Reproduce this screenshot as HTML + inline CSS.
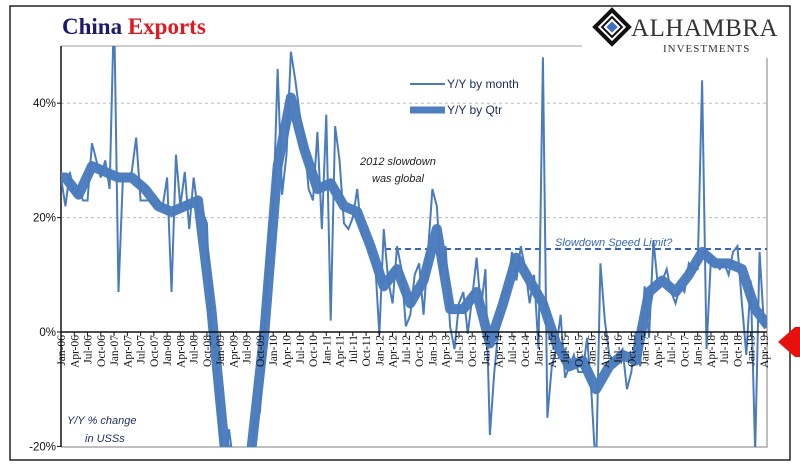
<!DOCTYPE html>
<html><head><meta charset="utf-8"><style>
body{margin:0;background:#fff;width:800px;height:476px;overflow:hidden}
svg{display:block}
</style></head><body>
<svg id="chart" width="800" height="476" viewBox="0 0 800 476">
<rect x="10" y="6" width="780" height="454" fill="#fff" stroke="#222" stroke-width="1.5"/>
<text x="62" y="34" font-family="Liberation Serif, serif" font-size="23" font-weight="bold"><tspan fill="#1a1a6e">China </tspan><tspan fill="#e0191f">Exports</tspan></text>
<g>
<g transform="translate(612,27) rotate(45)"><rect x="-12" y="-12" width="24" height="24" fill="none" stroke="#111" stroke-width="4"/><rect x="-7" y="-7" width="14" height="14" fill="none" stroke="#111" stroke-width="2"/><rect x="-4" y="-4" width="8" height="8" fill="#3f6fc0"/></g>
<text x="631" y="36" font-family="Liberation Serif, serif" font-size="25" fill="#333" letter-spacing="0.5">ALHAMBRA</text>
<text x="663" y="52" font-family="Liberation Serif, serif" font-size="11" fill="#333" letter-spacing="1">INVESTMENTS</text>
</g>
<g id="plot"></g>
<polygon points="778,342 795,327 800,327 800,357 795,357" fill="#e8100f"/>
</svg>
<script>
const monthLabels=["Jan","Apr","Jul","Oct"];
const monthly=[27,22,28,24,25,23,23,33,30,27,30,25,
57,7,27,27,28,34,23,23,23,22,23,22,
27,7,31,22,28,18,27,21,21,19,-2,-3,
-18,-26,-17,-23,-26,-21,-23,-23,-15,-14,-1,18,
21,46,24,31,49,44,38,34,25,23,35,18,
38,2,36,30,19,18,20,25,17,16,14,13,
-0.5,18,9,5,15,11,1,3,10,12,3,14,
25,22,10,15,1,-3,5,7,-0.3,6,13,4,
11,-18,-7,1,7,7,14,9,15,11,5,10,
-3,48,-15,-6,-3,3,-8,-6,-4,-7,-7,-1,
-11,-25,12,2,-4,-5,-4,-3,-10,-7,0,-6,
8,-1,16,8,9,11,7,5,8,7,12,11,
11,44,-3,13,12,11,12,10,14,15,5,-4,
9,-21,14,1];
const quarterly=[27,24,29,28, 27,27,25,22, 21,22,23,4, -20,-24,-21,0, 29,41,32,25, 26,22,21,15, 8,11,5,9, 18,4,4,7, -2,5,13,9, 5,-2,-6,-5, -10,-6,-4,-5, 7,9,7,10, 14,12,12,11, 4,1];
const yTicks=[-20,0,20,40];
const speedLimit=14.5;
const startYear=2006;

const NS="http://www.w3.org/2000/svg";
const plot=document.getElementById('plot');
const X0=61,X1=764,Y0=332,PPU=5.72,TOP=46,BOT=447,RIGHT=767;
const N=monthly.length;
const x=i=>X0+i*(X1-X0)/(N-1);
const y=v=>Y0-v*PPU;
function el(t,a){const e=document.createElementNS(NS,t);for(const k in a)e.setAttribute(k,a[k]);plot.appendChild(e);return e;}

const clip=document.createElementNS(NS,'clipPath');clip.setAttribute('id','pc');
const cr=document.createElementNS(NS,'rect');cr.setAttribute('x',X0);cr.setAttribute('y',TOP);cr.setAttribute('width',RIGHT-X0);cr.setAttribute('height',BOT-TOP);
clip.appendChild(cr);plot.appendChild(clip);

let e=el('polyline',{points:`${X0},${TOP} ${582},${TOP}`,stroke:'#999',fill:'none','stroke-width':1});


e=el('polyline',{points:`${RIGHT},58 ${RIGHT},${BOT} ${X0},${BOT}`,stroke:'#aaa',fill:'none','stroke-width':1.5});



yTicks.forEach(v=>{
  if(v>0){const g=el('line',{x1:X0,x2:RIGHT,y1:y(v),y2:y(v),stroke:'#bbb','stroke-dasharray':'3,3'});
  
  }
  const t=el('text',{x:X0-5,y:y(v)+4,'text-anchor':'end','font-family':'Liberation Sans, sans-serif','font-size':11.5,fill:'#111'});
  t.textContent=v+'%';
  
  
  const tk=el('line',{x1:X0-4,x2:X0,y1:y(v),y2:y(v),stroke:'#111'});
  
  
});
e=el('line',{x1:X0,x2:X0,y1:TOP,y2:BOT,stroke:'#111','stroke-width':1.5});



e=el('line',{x1:385,x2:RIGHT,y1:y(speedLimit),y2:y(speedLimit),stroke:'#3b67b0','stroke-width':2,'stroke-dasharray':'6,4'});



const qpts=quarterly.map((v,i)=>`${x(i*3+1)},${y(v)}`);
qpts.unshift(`${x(0)},${y(quarterly[0])}`);
e=el('polyline',{points:qpts.join(' '),fill:'none',stroke:'#4f7fbf','stroke-width':10,'stroke-linejoin':'round','clip-path':'url(#pc)'});


e=el('polyline',{points:monthly.map((v,i)=>`${x(i)},${y(v)}`).join(' '),fill:'none',stroke:'#4a7cbd','stroke-width':2,'clip-path':'url(#pc)'});



e=el('line',{x1:X0,x2:RIGHT,y1:Y0,y2:Y0,stroke:'#111','stroke-width':1.5});


for(let i=0;i<N;i+=3){
  const tk=el('line',{x1:x(i),x2:x(i),y1:Y0,y2:Y0+4,stroke:'#111'});
  
  
  const yr=String((startYear+Math.floor(i/12))%100).padStart(2,'0');
  const t=el('text',{transform:`translate(${x(i)+4},${Y0+3}) rotate(-90)`,'text-anchor':'end','font-family':'Liberation Serif, serif','font-size':11.5,fill:'#111'});
  t.textContent=monthLabels[(i%12)/3]+'-'+yr;
  
  
}

function txt(s,a,name){const t=el('text',Object.assign({'font-family':'Liberation Sans, sans-serif'},a));t.textContent=s;return t;}
e=el('line',{x1:410,x2:445,y1:84,y2:84,stroke:'#4a7cbd','stroke-width':2});


txt('Y/Y by month',{x:447,y:88,'font-size':12,fill:'#1f3060'},'legend-month-label');
e=el('line',{x1:410,x2:445,y1:110,y2:110,stroke:'#4f7fbf','stroke-width':7});


txt('Y/Y by Qtr',{x:447,y:114,'font-size':12,fill:'#1f3060'},'legend-qtr-label');
txt('2012 slowdown',{x:360,y:165,'font-size':11,'font-style':'italic',fill:'#222'},'annotation-2012-line1');
txt('was global',{x:372,y:182,'font-size':11,'font-style':'italic',fill:'#222'},'annotation-2012-line2');
txt('Slowdown Speed Limit?',{x:555,y:246,'font-size':11,'font-style':'italic',fill:'#3b67b0'},'speed-limit-label');
txt('Y/Y % change',{x:67,y:424,'font-size':11,'font-style':'italic',fill:'#1f3060'},'y-axis-note-line1');
txt('in USSs',{x:85,y:442,'font-size':11,'font-style':'italic',fill:'#1f3060'},'y-axis-note-line2');
</script>
</body></html>
